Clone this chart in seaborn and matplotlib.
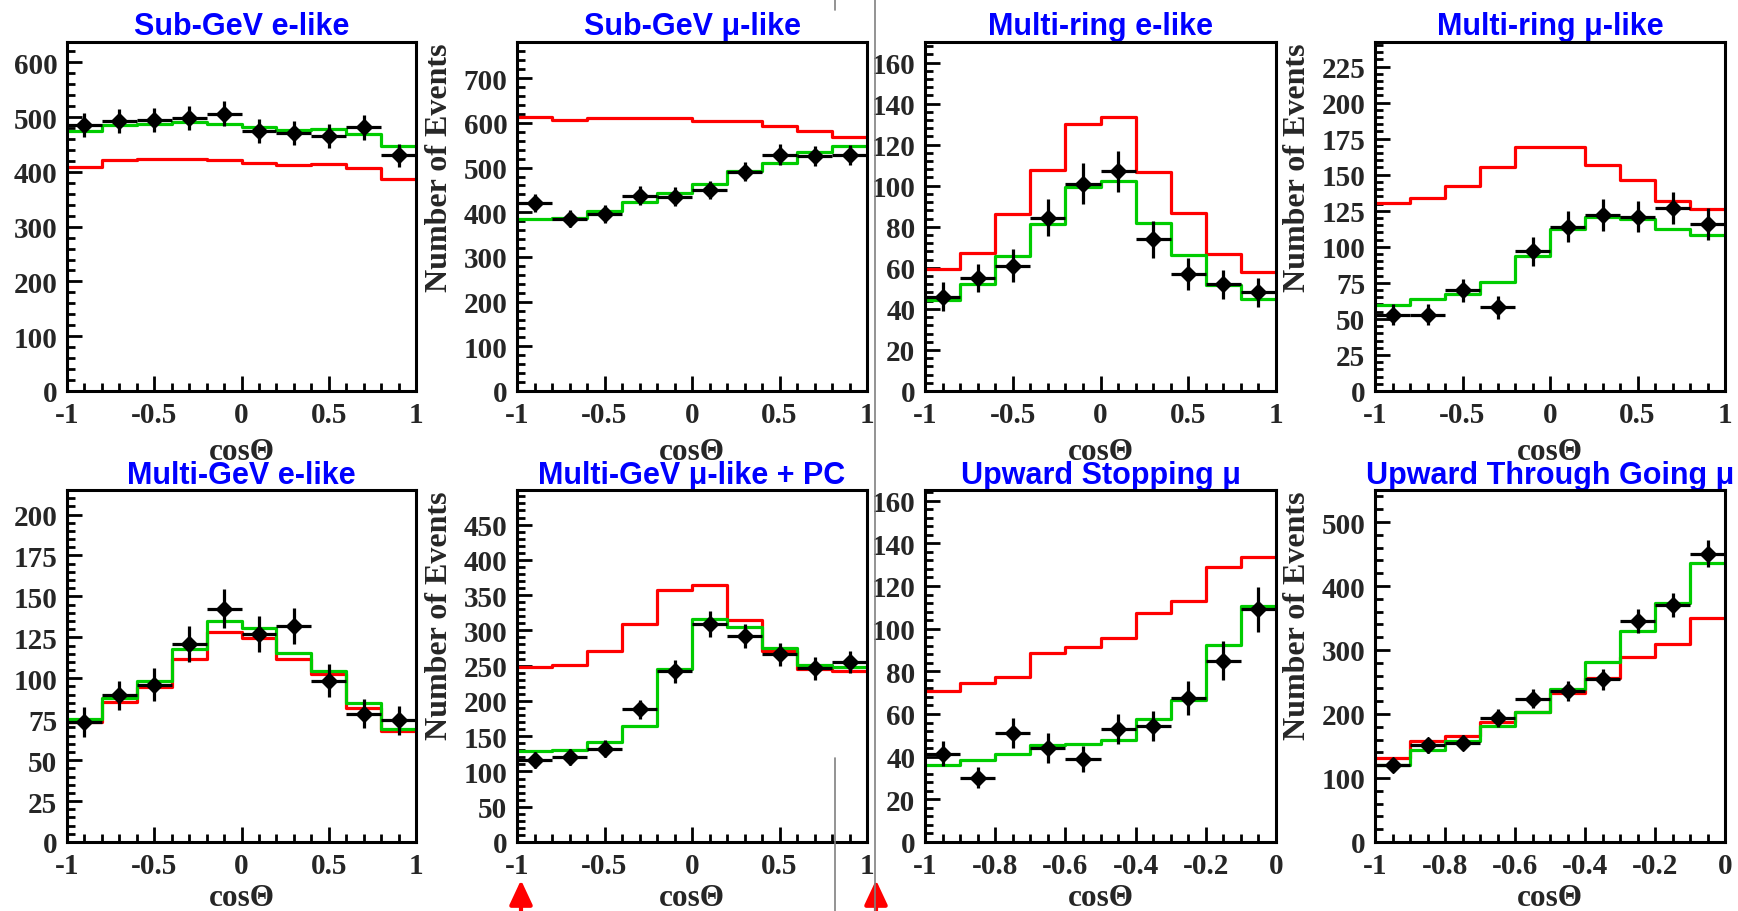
import numpy as np
import pandas as pd
import matplotlib
matplotlib.use("Agg")
import matplotlib.pyplot as plt
import seaborn as sns
from matplotlib.ticker import MultipleLocator, FuncFormatter
from matplotlib.lines import Line2D
from matplotlib.patches import FancyArrowPatch

# ---------------- data ----------------
titles = ["Sub-GeV e-like", "Sub-GeV \u03bc-like", "Multi-ring e-like", "Multi-ring \u03bc-like",
          "Multi-GeV e-like", "Multi-GeV \u03bc-like + PC", "Upward Stopping \u03bc",
          "Upward Through Going \u03bc"]
x_ranges = [(-1, 1), (-1, 1), (-1, 1), (-1, 1), (-1, 1), (-1, 1), (-1, 0), (-1, 0)]

data1 = [485, 492, 494, 498, 506, 474, 471, 466, 481, 430]
err1 = [22, 22, 22, 22, 23, 22, 22, 22, 22, 21]
green1 = [474, 486, 488, 491, 487, 482, 477, 479, 469, 448]
red1 = [408, 421, 424, 424, 422, 416, 412, 415, 407, 387]

data2 = [420, 386, 397, 437, 435, 450, 491, 529, 526, 528]
err2 = [20, 20, 20, 21, 21, 21, 22, 23, 23, 23]
green2 = [384, 388, 402, 422, 442, 464, 493, 511, 534, 549]
red2 = [613, 607, 610, 612, 610, 604, 605, 592, 581, 569]

data3 = [46, 55, 61, 84.5, 101, 107, 74, 57, 52, 48]
err3 = [7, 7, 8, 9, 10, 10, 9, 8, 7, 7]
green3 = [44.3, 52, 65.8, 81.2, 99.4, 102.3, 82, 66.1, 51.5, 45]
red3 = [59.6, 67.4, 86.4, 107.7, 130, 133.7, 106.7, 86.6, 66.9, 58]

data4 = [53, 53, 70, 58, 97, 114, 122, 121, 127, 116]
err4 = [7, 7, 8, 8, 10, 11, 11, 11, 11, 11]
green4 = [59.5, 63.5, 67.6, 75.7, 93.9, 112.6, 120.7, 119.5, 112.4, 108.5]
red4 = [130.4, 133.6, 142.4, 155, 169.4, 169, 156.5, 146, 132, 126.5]

data5 = [73.3, 89.6, 96.1, 120.8, 142.6, 126.9, 131.8, 98.6, 78.4, 74.3]
err5 = [9, 9, 10, 11, 12, 11, 11, 10, 9, 9]
green5 = [75.4, 88, 98.2, 117.7, 135, 130.8, 115.7, 104.3, 85.1, 68.8]
red5 = [73.3, 85.5, 94.7, 112, 128.3, 124.8, 111.6, 102.9, 82.1, 67.8]

data6 = [116, 120.5, 132, 188, 242, 309, 292, 266, 246, 255]
err6 = [11, 11, 12, 14, 16, 18, 17, 16, 16, 16]
green6 = [128.6, 130, 141.8, 164.5, 245.8, 316.7, 304.9, 275, 250.5, 248]
red6 = [248.6, 251.5, 270.8, 309.6, 357, 364, 315.3, 270.4, 245.8, 242]

data7 = [41.4, 30.1, 51, 44.2, 39, 53.1, 54.2, 67.3, 85, 109]
err7 = [6, 5, 7, 7, 6, 7, 7, 8, 9, 10.5]
green7 = [36.2, 38.6, 41.4, 45.7, 46, 47.6, 57.8, 66.7, 92.4, 110.5]
red7 = [70.6, 74.7, 77.3, 88.6, 91.6, 95.4, 107.3, 112.9, 129.1, 133.8]

data8 = [119.8, 151, 155.2, 193.8, 224, 236, 254, 345.3, 370.8, 450.5]
err8 = [11, 12, 12, 14, 15, 15, 16, 19, 19, 21]
green8 = [119.8, 144.3, 157.3, 181.3, 203, 239.6, 281.3, 329.7, 374, 436.5]
red8 = [131.8, 157.3, 165.6, 187.5, 203, 233.3, 256.3, 289, 309.9, 350.5]

datas = [data1, data2, data3, data4, data5, data6, data7, data8]
errs = [err1, err2, err3, err4, err5, err6, err7, err8]
greens = [green1, green2, green3, green4, green5, green6, green7, green8]
reds = [red1, red2, red3, red4, red5, red6, red7, red8]

y_tops = [637, 781, 170, 242, 215, 499, 165, 550]
y_major = [100, 100, 20, 25, 25, 50, 20, 100]
y_minor = [20, 20, 4, 5, 5, 10, 4, 20]
show_ylabel = [False, True, False, True, False, True, False, True]

# ---------------- style ----------------
sns.set_style("white")
plt.rcParams['font.family'] = ['Liberation Serif', 'DejaVu Serif']
plt.rcParams['font.weight'] = 'bold'
plt.rcParams['axes.unicode_minus'] = False

W, H = 1738, 912
fig = plt.figure(figsize=(W / 100, H / 100), dpi=100)

cols = [(67, 416), (517, 867), (925, 1276), (1375, 1725)]
rows = [(43, 392), (491, 843)]

RED = '#FF0000'
GREEN = '#00CC00'
NB = 10

def fmt(v, pos):
    return '%g' % round(v, 6)

for i in range(8):
    r, c = divmod(i, 4)
    (l, rr), (t, b) = cols[c], rows[r]
    ax = fig.add_axes([l / W, 1 - b / H, (rr - l) / W, (b - t) / H])
    x0, x1 = x_ranges[i]
    width = (x1 - x0) / NB
    centers = x0 + width * (np.arange(NB) + 0.5)
    df = pd.DataFrame({'cos': centers, 'red': reds[i], 'green': greens[i],
                       'data': datas[i], 'err': errs[i]})

    sns.histplot(data=df, x='cos', weights='red', bins=NB, binrange=(x0, x1),
                 element='step', fill=False, color=RED, linewidth=2.3, ax=ax)
    sns.histplot(data=df, x='cos', weights='green', bins=NB, binrange=(x0, x1),
                 element='step', fill=False, color=GREEN, linewidth=2.3, ax=ax)
    ax.errorbar(df['cos'], df['data'], yerr=df['err'], xerr=width / 2, fmt='D',
                color='black', ms=8, mew=1, elinewidth=2.3, capsize=0, zorder=5)

    ax.set_xlim(x0, x1)
    ax.set_ylim(0, y_tops[i])

    for s in ax.spines.values():
        s.set_linewidth(2.2)
        s.set_color('black')
        s.set_zorder(6)

    if x1 - x0 > 1.5:
        ax.xaxis.set_major_locator(MultipleLocator(0.5))
        ax.xaxis.set_minor_locator(MultipleLocator(0.1))
    else:
        ax.xaxis.set_major_locator(MultipleLocator(0.2))
        ax.xaxis.set_minor_locator(MultipleLocator(0.05))
    ax.yaxis.set_major_locator(MultipleLocator(y_major[i]))
    ax.yaxis.set_minor_locator(MultipleLocator(y_minor[i]))
    ax.xaxis.set_major_formatter(FuncFormatter(fmt))
    ax.yaxis.set_major_formatter(FuncFormatter(fmt))

    ax.tick_params(which='both', direction='in', bottom=True, left=True, top=False,
                   right=False, width=2, color='black')
    ax.tick_params(which='major', length=11, labelsize=21, pad=7)
    ax.tick_params(which='minor', length=5.5)
    for lab in ax.get_xticklabels() + ax.get_yticklabels():
        lab.set_fontweight('heavy')

    ax.set_xlabel('cos\u0398', fontsize=22.5, fontweight='heavy')
    ax.xaxis.set_label_coords(0.5, -0.172 if r == 0 else -0.159)
    ax.xaxis.label.set_va('center')

    if show_ylabel[i]:
        ax.set_ylabel('Number of Events', fontsize=23, fontweight='heavy', loc='top')
        ax.yaxis.set_label_coords(-0.18, 1.0)
    else:
        ax.set_ylabel('')

    ax.set_title(titles[i], color='#0000FF', fontsize=22, fontweight='bold',
                 family=['Liberation Sans', 'DejaVu Sans'], pad=6 if r == 0 else 3)

# --- decorations present in the source screenshot ---
def vline(x, y0, y1):
    fig.add_artist(Line2D([x / W, x / W], [1 - y0 / H, 1 - y1 / H],
                          transform=fig.transFigure, color='#808080', lw=1.2))

vline(875, 0, 912)
vline(835, 0, 11)
vline(835, 759, 912)

for xa in (521, 876):
    fig.add_artist(FancyArrowPatch((xa / W, 0.0), (xa / W, 1 - 881 / H),
                                   transform=fig.transFigure,
                                   arrowstyle='-|>,head_length=0.75,head_width=0.35',
                                   mutation_scale=20, color='#FF0000', lw=3,
                                   shrinkA=0, shrinkB=0))

fig.savefig('out.png', dpi=100, facecolor='white')
